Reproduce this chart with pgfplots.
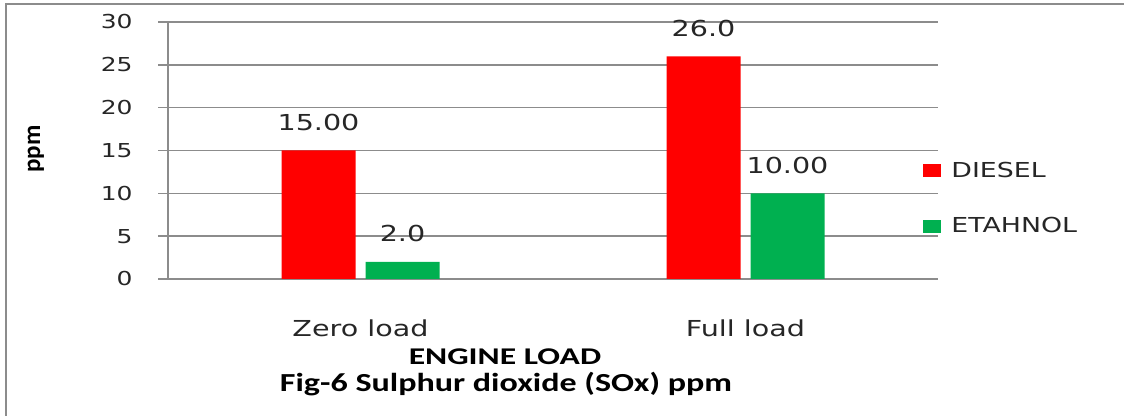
\documentclass[border=0pt]{standalone}
\usepackage{fontspec}
\setmainfont{DejaVu Sans}[FakeStretch=1.3]
\newfontfamily\carlito{Carlito}[FakeStretch=1.4]
\newfontfamily\carlitowide{Carlito}[FakeStretch=1.31]
\newfontfamily\carlitoplain{Carlito}
\usepackage{pgfplots}
\pgfplotsset{compat=1.18}
\definecolor{dred}{HTML}{FF0000}
\definecolor{dgreen}{HTML}{00B050}
\definecolor{gridgray}{HTML}{8C8C8C}
\definecolor{txt}{HTML}{262626}
\begin{document}
\begin{tikzpicture}
\useasboundingbox (0,0) rectangle (562pt,208pt);
\fill[white] (0,0) rectangle (562pt,208pt);
\draw[color=gridgray, line width=1pt] (2.75pt,0) -- (2.75pt,206pt) -- (562pt,206pt);
\begin{axis}[
  at={(84pt,68.5pt)}, anchor=south west,
  scale only axis, width=385pt, height=128.5pt,
  xmin=-0.5, xmax=1.5, ymin=0, ymax=30,
  enlargelimits=false, clip=false,
  ybar=5pt, bar width=37pt,
  xtick={0,1}, xticklabels={Zero load, Full load},
  ytick={0,5,...,30},
  axis y line*=left, axis x line*=bottom,
  x axis line style={draw=none}, y axis line style={color=gridgray, line width=0.75pt},
  major x tick style={draw=none},
  major y tick style={color=gridgray, line width=0.75pt},
  tick align=outside, major tick length=5pt,
  ymajorgrids, grid style={color=gridgray, line width=0.75pt},
  /pgf/number format/assume math mode=true,
  yticklabel style={font=\fontsize{9.6}{11}\selectfont, text=txt, anchor=east, inner sep=0pt, xshift=-12.5pt},
  xticklabel style={font=\fontsize{11}{13}\selectfont, text=txt, anchor=base, inner sep=0pt, yshift=-24pt},
  nodes near coords, point meta=explicit symbolic,
  every node near coord/.append style={font=\fontsize{11}{13}\selectfont, text=txt, anchor=base, inner sep=0pt, yshift=10pt},
  legend style={at={(rel axis cs:0.9805,0.313)}, anchor=west, draw=none, fill=none,
    inner sep=0pt, font=\fontsize{10.3}{12}\selectfont, text=txt,
    nodes={inner sep=0pt, anchor=west}, row sep=18.5pt, column sep=5pt},
  legend cell align=left,
  legend image code/.code={\fill[#1] (0pt,-3.25pt) rectangle (9pt,3.25pt);},
]
\addplot[fill=dred, draw=none] coordinates {(0,15)[15.00] (1,26)[26.0]};
\addplot[fill=dgreen, draw=none] coordinates {(0,2)[2.0] (1,10)[10.00]};
\legend{DIESEL, ETAHNOL}
\end{axis}
\node[anchor=base, inner sep=0pt, font=\carlito\bfseries\fontsize{12}{14}\selectfont] at (252.5pt,25.5pt) {ENGINE LOAD};
\node[anchor=base, inner sep=0pt, font=\carlitowide\bfseries\fontsize{13}{15}\selectfont] at (253pt,12pt) {Fig-6 Sulphur dioxide (SOx) ppm};
\node[rotate=90, inner sep=0pt, font=\carlitoplain\bfseries\fontsize{12.5}{14}\selectfont] at (18pt,133.5pt) {ppm};
\end{tikzpicture}
\end{document}
